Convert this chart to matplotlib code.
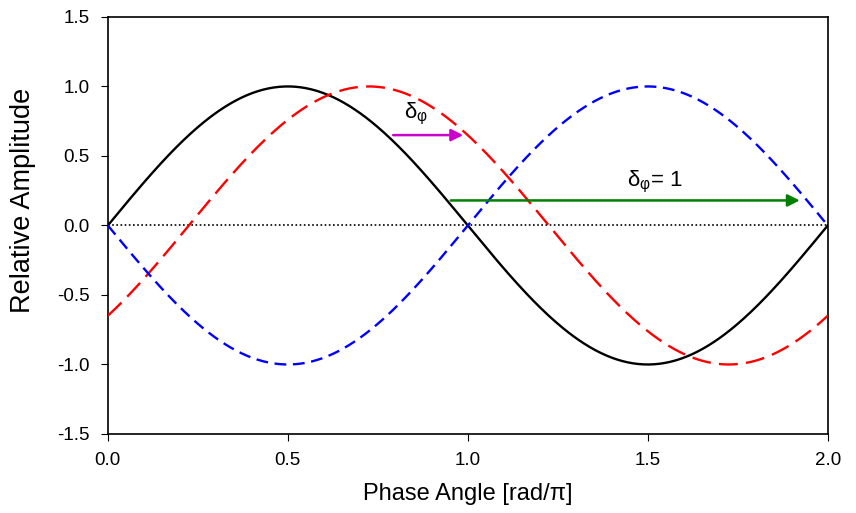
import matplotlib.pyplot as plt
import numpy as np

plt.rcParams['font.family'] = ['Liberation Sans', 'DejaVu Sans']

# Phase shifts (in units of pi) of the three waves
names = ["reference", "shifted", "inverted"]
shifts = [0.0, 0.225, 1.0]
colors = ["black", "red", "blue"]

# Annotation arrows: (x start, x end, y)
small_arrow = [0.785, 0.995, 0.65]
big_arrow = [0.945, 1.93, 0.18]

xticks = [0.0, 0.5, 1.0, 1.5, 2.0]
yticks = [-1.5, -1.0, -0.5, 0.0, 0.5, 1.0, 1.5]

fig = plt.figure(figsize=(8.56, 5.13), dpi=100)
ax = fig.add_axes([0.126, 0.154, 0.841, 0.813])

x = np.linspace(0, 2, 400)
styles = {"black": dict(linestyle="-"),
          "red": dict(linestyle=(0, (8, 3.5))),
          "blue": dict(linestyle=(0, (5, 2.8)))}
for name, s, c in zip(names, shifts, colors):
    ax.plot(x, np.sin(np.pi * (x - s)), color=c, lw=1.7, **styles[c], zorder=3)

ax.axhline(0, color="black", lw=1.2, linestyle=(0, (1, 1.5)), zorder=2)

# Arrows
ax.annotate("", xy=(small_arrow[1], small_arrow[2]), xytext=(small_arrow[0], small_arrow[2]),
            arrowprops=dict(arrowstyle="-|>", color="#cc00cc", lw=1.8, mutation_scale=18))
ax.annotate("", xy=(big_arrow[1], big_arrow[2]), xytext=(big_arrow[0], big_arrow[2]),
            arrowprops=dict(arrowstyle="-|>", color="green", lw=1.8, mutation_scale=18))
ax.text(0.855, 0.8, r"$\mathregular{δ_φ}$", fontsize=16, ha="center", va="center")
ax.text(1.52, 0.31, r"$\mathregular{δ_φ}$= 1", fontsize=16, ha="center", va="center")

ax.set_xlim(0, 2)
ax.set_ylim(-1.5, 1.5)
ax.set_xticks(xticks)
ax.set_yticks(yticks)
ax.xaxis.set_major_formatter(plt.FormatStrFormatter("%.1f"))
ax.yaxis.set_major_formatter(plt.FormatStrFormatter("%.1f"))
ax.tick_params(direction="out", length=5, labelsize=13.5, pad=8)
for sp in ax.spines.values():
    sp.set_linewidth(1.2)

ax.set_xlabel("Phase Angle [rad/\u03c0]", fontsize=17, labelpad=10)
ax.set_ylabel("Relative Amplitude", fontsize=19.5)
ax.yaxis.set_label_coords(-0.1, 0.56)

plt.savefig("out.png", dpi=100)
